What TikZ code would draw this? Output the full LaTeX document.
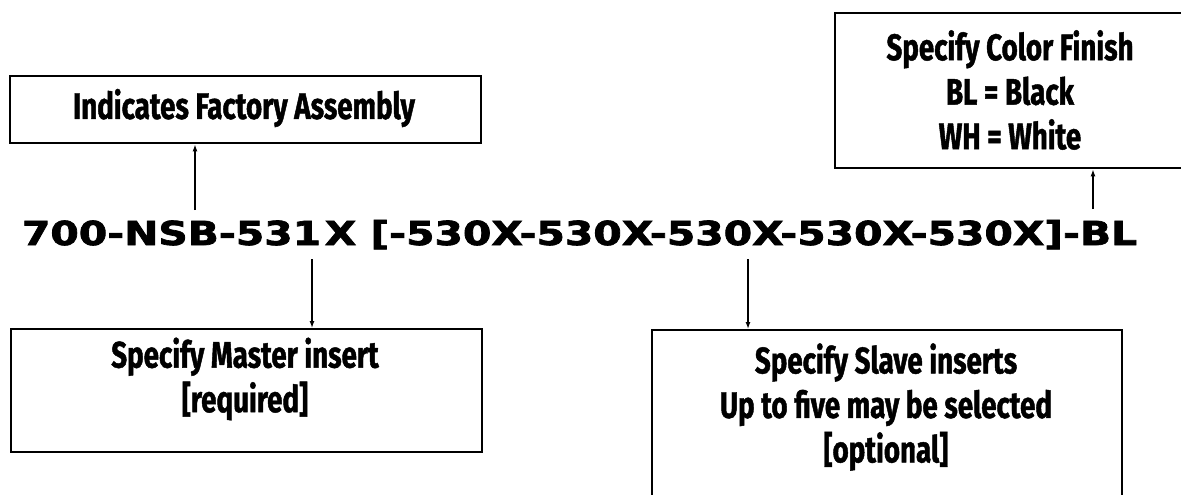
\documentclass[tikz,border=0pt]{standalone}
\usepackage{fontspec}
\usetikzlibrary{arrows.meta}
\newfontfamily\boxfont{Fira Sans}[FakeStretch=0.75,FakeBold=1.2]
\newfontfamily\codefont{DejaVu Sans}[FakeBold=2]
\begin{document}
\begin{tikzpicture}[x=1pt,y=-1pt,
  box/.style={draw, line width=2.4pt, anchor=north west, inner sep=0pt},
  lbl/.style={font=\boxfont\bfseries\fontsize{37}{44.5}\selectfont, align=center, inner sep=0pt},
  arr/.style={line width=1.3pt, -{Latex[length=7pt,width=5pt]}}]
\useasboundingbox (0,0) rectangle (1181,495);
% boxes
\node[box, minimum width=471pt, minimum height=67pt] (b1) at (9,75) {};
\node[box, minimum width=352pt, minimum height=155pt] (b2) at (834,12) {};
\node[box, minimum width=471pt, minimum height=123pt] (b3) at (10,328) {};
\node[box, minimum width=470pt, minimum height=180pt] (b4) at (651,329) {};
% labels
\node[lbl] (t1) at (244,108) {Indicates Factory Assembly};
\node[lbl] (t2) at (1010,90) {Specify Color Finish\\BL = Black\\WH = White};
\node[lbl] (t3) at (245,379) {Specify Master insert\\{}[required]};
\node[lbl] (t4) at (886,407) {Specify Slave inserts\\Up to five may be selected\\{}[optional]};
% code
\node[inner sep=0pt, anchor=base] (code) at (579.5,245)
  {\resizebox{1115pt}{\height}{\codefont\bfseries\fontsize{33}{38}\selectfont 700-NSB-531\kern3pt X [-530X-530X-530X-530X-530X]-BL}};
\coordinate (c1) at (195,210);
\coordinate (c2) at (1093,209);
\coordinate (c3) at (312,259);
\coordinate (c4) at (748,259);
\draw[arr] (c1) -- (c1 |- b1.south);
\draw[arr] (c2) -- (c2 |- b2.south);
\draw[arr] (c3) -- (c3 |- b3.north);
\draw[arr] (c4) -- (c4 |- b4.north);
\end{tikzpicture}
\end{document}
